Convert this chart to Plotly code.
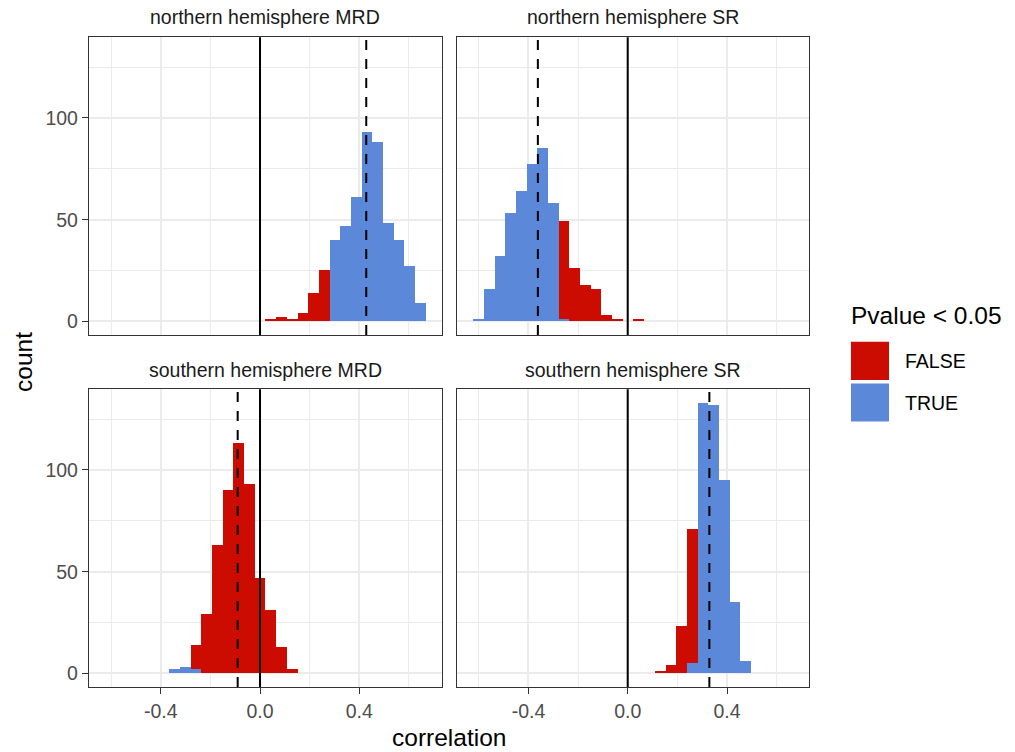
import plotly.graph_objects as go

W, H = 1015, 752

# ---------------- data ----------------
bin_centers = [-0.6025, -0.5594, -0.5163, -0.4733, -0.4302, -0.3872, -0.3441, -0.3011,
               -0.2580, -0.2150, -0.1719, -0.1288, -0.0858, -0.0427, 0.0003, 0.0434,
               0.0865, 0.1295, 0.1726, 0.2156, 0.2587, 0.3017, 0.3448, 0.3878,
               0.4309, 0.4739, 0.5170, 0.5601, 0.6031, 0.6462]
bin_width = 0.04306

panel_titles = ["northern hemisphere MRD", "northern hemisphere SR",
                "southern hemisphere MRD", "southern hemisphere SR"]

nh_mrd_false = [0, 0, 0, 0, 0, 0, 0, 0, 0, 0, 0, 0, 0, 0, 0, 1, 2, 1, 4, 14, 25, 0, 0, 0, 0, 0, 0, 0, 0, 0]
nh_mrd_true = [0, 0, 0, 0, 0, 0, 0, 0, 0, 0, 0, 0, 0, 0, 0, 0, 0, 0, 0, 0, 0, 40, 47, 61, 93, 88, 48, 40, 27, 9]

nh_sr_false = [0, 0, 0, 0, 0, 0, 0, 0, 48, 26, 18, 16, 3, 1, 0, 1, 0, 0, 0, 0, 0, 0, 0, 0, 0, 0, 0, 0, 0, 0]
nh_sr_true = [1, 16, 32, 53, 64, 77, 85, 58, 1, 0, 0, 0, 0, 0, 0, 0, 0, 0, 0, 0, 0, 0, 0, 0, 0, 0, 0, 0, 0, 0]

sh_mrd_false = [0, 0, 0, 0, 0, 0, 0, 0, 12, 29, 63, 90, 113, 93, 47, 31, 13, 2, 0, 0, 0, 0, 0, 0, 0, 0, 0, 0, 0, 0]
sh_mrd_true = [0, 0, 0, 0, 0, 0, 2, 3, 2, 0, 0, 0, 0, 0, 0, 0, 0, 0, 0, 0, 0, 0, 0, 0, 0, 0, 0, 0, 0, 0]

sh_sr_false = [0, 0, 0, 0, 0, 0, 0, 0, 0, 0, 0, 0, 0, 0, 0, 0, 0, 1, 4, 23, 66, 0, 0, 0, 0, 0, 0, 0, 0, 0]
sh_sr_true = [0, 0, 0, 0, 0, 0, 0, 0, 0, 0, 0, 0, 0, 0, 0, 0, 0, 0, 0, 0, 5, 133, 132, 95, 35, 6, 0, 0, 0, 0]

mean_corr = [0.428, -0.362, -0.090, 0.329]

counts_false = [nh_mrd_false, nh_sr_false, sh_mrd_false, sh_sr_false]
counts_true = [nh_mrd_true, nh_sr_true, sh_mrd_true, sh_sr_true]

x_ticks = [-0.4, 0.0, 0.4]
x_tick_labels = ["-0.4", "0.0", "0.4"]
x_minor = [-0.6, -0.2, 0.2, 0.6]
y_ticks = [0, 50, 100]
y_minor = [25, 75, 125]

legend_title = "Pvalue < 0.05"
legend_labels = ["FALSE", "TRUE"]

# ---------------- style ----------------
RED = "#CC0C00"
BLUE = "#5C88DA"
FONT = "Liberation Sans, Arial, sans-serif"
GRID = "#EBEBEB"
BORDER = "#333333"

def px_x(p):
    return p / W

def px_y(p):
    return 1 - p / H

xdoms = [[px_x(89), px_x(441.7)], [px_x(456.7), px_x(809.4)]]
ydoms = [[px_y(335), px_y(37.3)], [px_y(687), px_y(389.3)]]

x_range = [-0.689, 0.732]
y_range = [-6.65, 139.65]

fig = go.Figure()
layout = dict(
    width=W, height=H,
    margin=dict(l=0, r=0, t=0, b=0),
    paper_bgcolor="white", plot_bgcolor="white",
    barmode="stack", bargap=0,
    showlegend=False,
    font=dict(family=FONT),
)

shapes = []
annotations = []

for i in range(4):
    row, col = divmod(i, 2)
    suf = "" if i == 0 else str(i + 1)
    xa, ya = "x" + suf, "y" + suf
    fig.add_trace(go.Bar(x=bin_centers, y=counts_true[i], width=bin_width,
                         marker=dict(color=BLUE, line=dict(width=0)),
                         xaxis=xa, yaxis=ya, name="TRUE"))
    fig.add_trace(go.Bar(x=bin_centers, y=counts_false[i], width=bin_width,
                         marker=dict(color=RED, line=dict(width=0)),
                         xaxis=xa, yaxis=ya, name="FALSE"))
    layout["xaxis" + suf] = dict(
        domain=xdoms[col], range=x_range, anchor=ya,
        tickmode="array", tickvals=x_ticks, ticktext=x_tick_labels,
        showticklabels=(row == 1), ticks="outside" if row == 1 else "",
        ticklen=6, tickwidth=1.2, tickcolor=BORDER,
        tickfont=dict(size=19.5, color="#4D4D4D", family=FONT),
        showgrid=True, gridcolor=GRID, gridwidth=1.5, zeroline=False,
        minor=dict(tickmode="array", tickvals=x_minor, showgrid=True,
                   gridcolor=GRID, gridwidth=0.8, ticks=""),
        showline=True, mirror=True, linecolor=BORDER, linewidth=1.3,
        fixedrange=True,
    )
    layout["yaxis" + suf] = dict(
        domain=ydoms[row], range=y_range, anchor=xa,
        tickmode="array", tickvals=y_ticks,
        showticklabels=(col == 0), ticks="outside" if col == 0 else "",
        ticklen=6, tickwidth=1.2, tickcolor=BORDER,
        tickfont=dict(size=19.5, color="#4D4D4D", family=FONT),
        showgrid=True, gridcolor=GRID, gridwidth=1.5, zeroline=False,
        minor=dict(tickmode="array", tickvals=y_minor, showgrid=True,
                   gridcolor=GRID, gridwidth=0.8, ticks=""),
        showline=True, mirror=True, linecolor=BORDER, linewidth=1.3,
        fixedrange=True,
    )
    # vertical reference lines
    shapes.append(dict(type="line", xref=xa, yref=ya + " domain", x0=0, x1=0, y0=0, y1=1,
                       line=dict(color="black", width=2)))
    shapes.append(dict(type="line", xref=xa, yref=ya + " domain",
                       x0=mean_corr[i], x1=mean_corr[i], y0=0, y1=1,
                       line=dict(color="black", width=2, dash="10px,9px")))
    # strip titles
    cx = (xdoms[col][0] + xdoms[col][1]) / 2
    sy = px_y(17) if row == 0 else px_y(370)
    annotations.append(dict(text=panel_titles[i], x=cx, y=sy, xref="paper", yref="paper",
                            xanchor="center", yanchor="middle", showarrow=False,
                            font=dict(size=19.5, color="#1A1A1A", family=FONT)))

# axis titles
annotations.append(dict(text="count", x=px_x(23), y=px_y(362), xref="paper", yref="paper",
                        textangle=-90, xanchor="center", yanchor="middle", showarrow=False,
                        font=dict(size=24.5, color="black", family=FONT)))
annotations.append(dict(text="correlation", x=px_x(449), y=px_y(737), xref="paper", yref="paper",
                        xanchor="center", yanchor="middle", showarrow=False,
                        font=dict(size=24.5, color="black", family=FONT)))

# legend (drawn manually)
annotations.append(dict(text=legend_title, x=px_x(849), y=px_y(315), xref="paper", yref="paper",
                        xanchor="left", yanchor="middle", showarrow=False,
                        font=dict(size=24.5, color="black", family=FONT)))
key_tops = [341.7, 383.4]
key_colors = [RED, BLUE]
for k in range(2):
    shapes.append(dict(type="rect", xref="paper", yref="paper",
                       x0=px_x(851), x1=px_x(889), y0=px_y(key_tops[k] + 38.2), y1=px_y(key_tops[k]),
                       fillcolor=key_colors[k], line=dict(width=0)))
    annotations.append(dict(text=legend_labels[k], x=px_x(903), y=px_y(key_tops[k] + 19.5),
                            xref="paper", yref="paper", xanchor="left", yanchor="middle",
                            showarrow=False, font=dict(size=19.5, color="black", family=FONT)))

layout["shapes"] = shapes
layout["annotations"] = annotations
fig.update_layout(**layout)

fig.write_html("out.html", config={"displayModeBar": False},
               post_script="document.body.style.margin='0px';")
